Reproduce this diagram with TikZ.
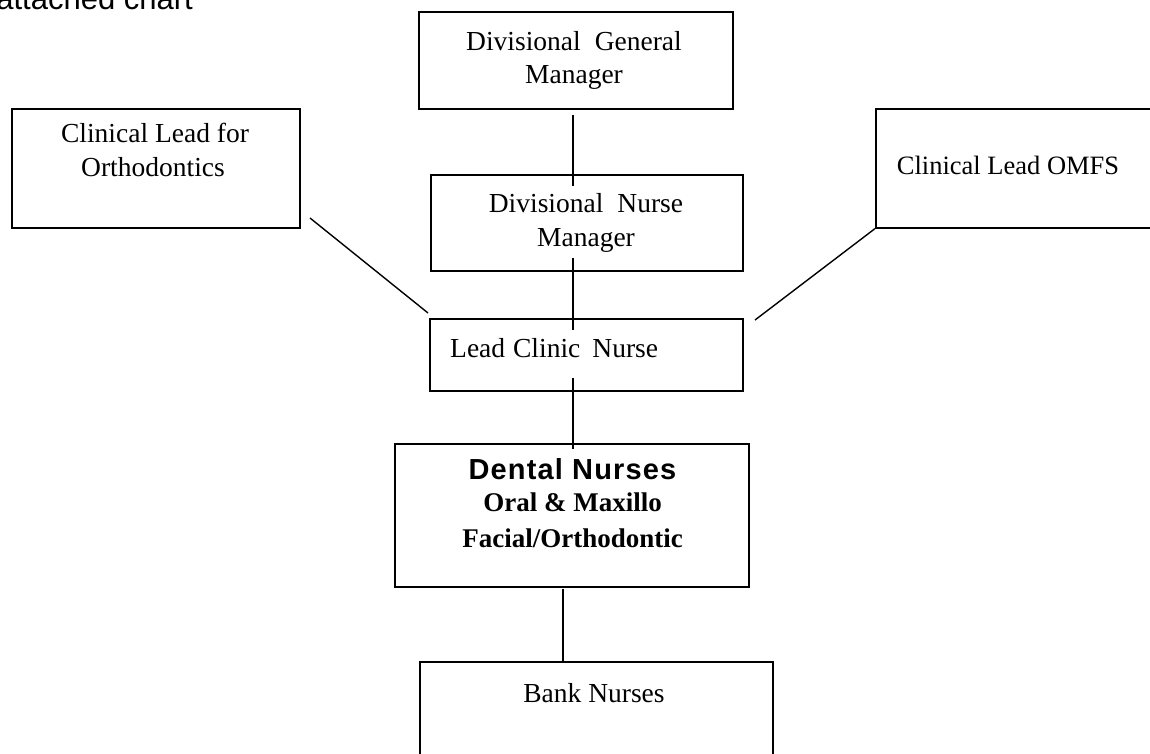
\documentclass[tikz,border=0pt]{standalone}
\usepackage{fontspec}
\setmainfont{Liberation Serif}
\newfontfamily\arialfont{Liberation Sans}
\newfontfamily\dnfont[LetterSpace=4]{Liberation Sans}
\begin{document}
\begin{tikzpicture}[x=1pt,y=-1pt,
  box/.style={draw,line width=1.6pt,rectangle,inner sep=0pt,anchor=north west},
  conn/.style={line width=1.4pt},
  txt/.style={anchor=base,inner sep=0pt,font=\fontsize{27.5}{32}\selectfont},
  btxt/.style={anchor=base,inner sep=0pt,font=\fontsize{27}{32}\selectfont\bfseries}]
\clip (0,0) rectangle (1150,754);
\fill[white] (0,0) rectangle (1150,754);

% title fragment
\node[anchor=base east,inner sep=0pt,font=\arialfont\fontsize{31}{36}\selectfont] (title) at (193,10) {attached chart};

% boxes
\node[box,minimum width=314pt,minimum height=97pt] (dgm) at (418,11) {};
\node[box,minimum width=288pt,minimum height=119pt] (clo) at (11,108) {};
\node[box,minimum width=300pt,minimum height=119pt] (omfs) at (875,108) {};
\node[box,minimum width=312pt,minimum height=96pt] (dnm) at (430,174) {};
\node[box,minimum width=313pt,minimum height=72pt] (lcn) at (429,318) {};
\node[box,minimum width=354pt,minimum height=143pt] (dn) at (394,443) {};
\node[box,minimum width=353pt,minimum height=140pt] (bank) at (419,661) {};

% texts
\node[txt] (dgmA) at (574,51) {Divisional\hspace{14pt}General};
\node[txt] (dgmB) at (574,84) {Manager};
\node[txt] (cloA) at (155,143) {Clinical Lead for};
\node[txt] (cloB) at (153,177) {Orthodontics};
\node[txt,font=\fontsize{26.5}{32}\selectfont] (omfsA) at (1008,175) {Clinical Lead OMFS};
\node[txt] (dnmA) at (586,212) {Divisional\hspace{14pt}Nurse};
\node[txt] (dnmB) at (586,246) {Manager};
\node[txt,anchor=base west] (lcnA) at (450,357) {Lead\hspace{8pt}Clinic\hspace{12pt}Nurse};
\node[anchor=base,inner sep=0pt,font=\dnfont\fontsize{29}{34}\selectfont\bfseries] (dnA) at (572.5,479) {Dental Nurses};
\node[btxt] (dnB) at (572.5,511) {Oral \& Maxillo};
\node[btxt] (dnC) at (572.5,547) {Facial/Orthodontic};
\node[txt] (bankA) at (594,702) {Bank Nurses};

% connector end points
\coordinate (c1a) at (573,115);
\coordinate (c1b) at (573,186);
\coordinate (c2a) at (573,258);
\coordinate (c2b) at (573,330);
\coordinate (c3a) at (573,378);
\coordinate (c3b) at (573,449);
\coordinate (c4a) at (563,589);
\coordinate (c5a) at (310,218);
\coordinate (c5b) at (428,313);
\coordinate (c6b) at (755,320);

\draw[conn] (c1a) -- (c1b);
\draw[conn] (c2a) -- (c2b);
\draw[conn] (c3a) -- (c3b);
\draw[conn] (c4a) -- (c4a |- bank.north);
\draw[conn] (c5a) -- (c5b);
\draw[conn] (omfs.south west) -- (c6b);
\end{tikzpicture}
\end{document}
